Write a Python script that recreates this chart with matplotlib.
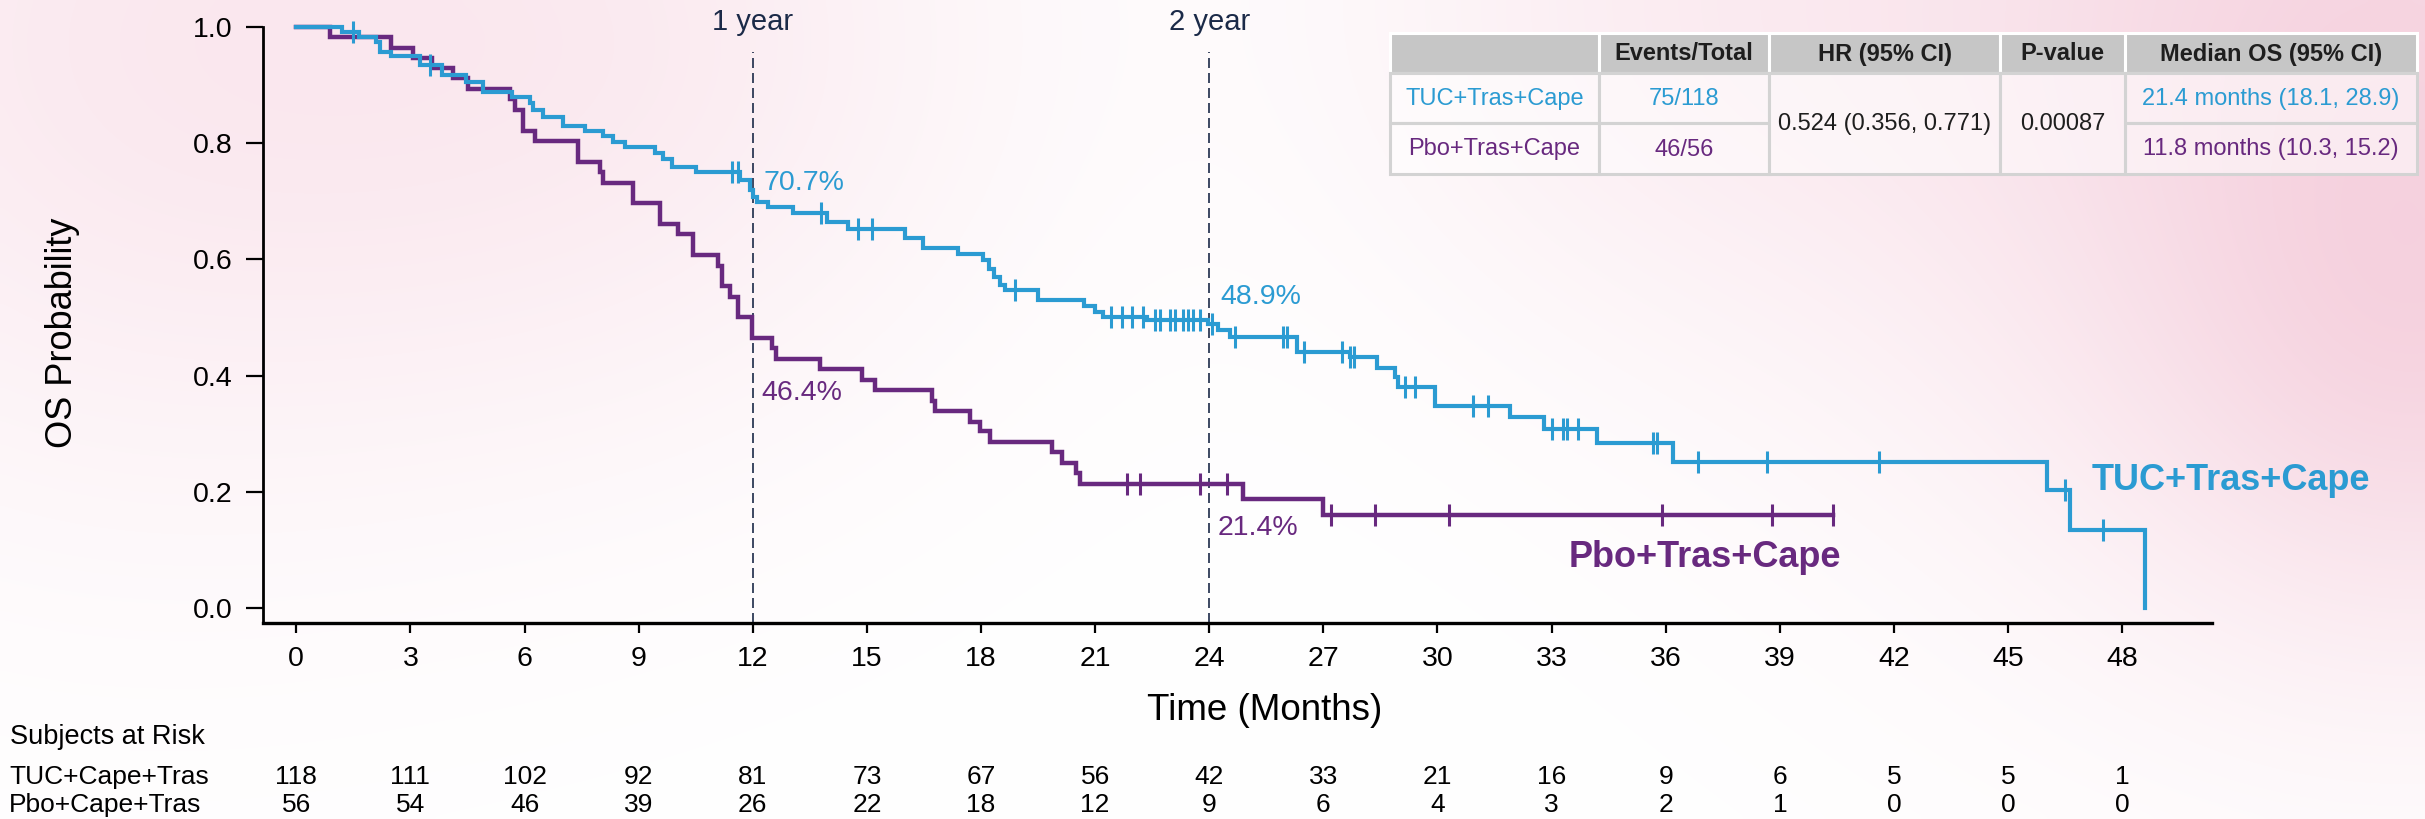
import numpy as np
import matplotlib
matplotlib.use("Agg")
import matplotlib.pyplot as plt
from matplotlib.patches import Rectangle
from matplotlib.transforms import blended_transform_factory

plt.rcParams['font.family'] = ['Liberation Sans', 'DejaVu Sans']

BLUE = '#2B9BD2'
PURPLE = '#68297F'
NAVY = '#1B2A48'

# ---------------- data ----------------
tuc_event_months = [1.2, 1.64, 2.1, 2.2, 2.5, 3.25, 3.82, 4.47, 4.92, 5.66, 6.14, 6.23, 6.49,
                    7.02, 7.59, 8.07, 8.33, 8.64, 9.43, 9.65, 9.87, 10.52, 11.66, 11.92, 12.0,
                    12.1, 12.4, 13.06, 13.94, 14.51, 15.99, 16.48, 17.4, 18.06, 18.2, 18.35,
                    18.5, 18.62, 19.5, 20.7, 21.0, 21.2, 22.36, 23.96, 24.24, 24.55, 26.3,
                    27.7, 28.4, 28.88, 28.97, 29.93, 31.9, 32.8, 34.2, 36.2, 46.01, 46.63, 48.6]
tuc_surv = [0.991, 0.983, 0.974, 0.957, 0.949, 0.934, 0.917, 0.905, 0.888, 0.879, 0.868, 0.856,
            0.845, 0.830, 0.821, 0.812, 0.802, 0.793, 0.783, 0.773, 0.759, 0.750, 0.736, 0.719,
            0.707, 0.698, 0.690, 0.680, 0.665, 0.653, 0.636, 0.619, 0.610, 0.598, 0.583, 0.570,
            0.556, 0.547, 0.530, 0.519, 0.510, 0.500, 0.495, 0.489, 0.478, 0.467, 0.441,
            0.432, 0.413, 0.398, 0.381, 0.348, 0.328, 0.309, 0.284, 0.252, 0.203, 0.134, 0.0]
tuc_censor_months = [1.5, 3.51, 11.45, 11.6, 13.79, 14.77, 15.13, 18.9, 21.43, 21.7, 21.96,
                     22.27, 22.58, 22.71, 22.97, 23.1, 23.3, 23.45, 23.58, 23.76, 24.06, 24.68,
                     25.95, 26.04, 26.5, 27.5, 27.7, 27.8, 29.15, 29.41, 30.94, 31.33, 33.0,
                     33.3, 33.4, 33.7, 35.67, 35.76, 36.85, 38.65, 41.6, 46.5, 47.5]

pbo_event_months = [0.89, 2.5, 3.08, 3.56, 4.13, 4.52, 5.62, 5.75, 5.97, 6.27, 7.41, 7.98, 8.07,
                    8.86, 9.56, 10.04, 10.44, 11.09, 11.18, 11.4, 11.62, 11.97, 12.5, 12.6,
                    13.77, 14.86, 15.2, 16.7, 16.79, 17.71, 17.97, 18.24, 19.86, 20.12, 20.51,
                    20.6, 24.9, 26.99]
pbo_surv = [0.982, 0.964, 0.946, 0.929, 0.911, 0.893, 0.875, 0.857, 0.821, 0.804, 0.768, 0.750,
            0.732, 0.696, 0.661, 0.643, 0.607, 0.589, 0.554, 0.536, 0.500, 0.464, 0.447, 0.429,
            0.411, 0.393, 0.375, 0.357, 0.339, 0.321, 0.304, 0.286, 0.268, 0.250, 0.232,
            0.214, 0.187, 0.161]
pbo_censor_months = [21.83, 22.18, 23.76, 24.46, 27.2, 28.35, 30.3, 35.9, 38.8, 40.4]

x_ticks = list(range(0, 49, 3))
y_ticks = [0.0, 0.2, 0.4, 0.6, 0.8, 1.0]
risk_tuc = [118, 111, 102, 92, 81, 73, 67, 56, 42, 33, 21, 16, 9, 6, 5, 5, 1]
risk_pbo = [56, 54, 46, 39, 26, 22, 18, 12, 9, 6, 4, 3, 2, 1, 0, 0, 0]
risk_labels = ['TUC+Cape+Tras', 'Pbo+Cape+Tras']

landmarks = [12, 24]
landmark_labels = ['1 year', '2 year']
tuc_landmark_pct = ['70.7%', '48.9%']
pbo_landmark_pct = ['46.4%', '21.4%']

arm_names = ['TUC+Tras+Cape', 'Pbo+Tras+Cape']
table_header = ['', 'Events/Total', 'HR (95% CI)', 'P-value', 'Median OS (95% CI)']
table_events = ['75/118', '46/56']
table_hr = '0.524 (0.356, 0.771)'
table_p = '0.00087'
table_median = ['21.4 months (18.1, 28.9)', '11.8 months (10.3, 15.2)']

# ---------------- figure ----------------
W, H = 2425, 819
fig = plt.figure(figsize=(W / 100, H / 100), dpi=100)

# soft pink watercolour-like background
bg = fig.add_axes([0, 0, 1, 1], zorder=-5)
gx, gy = np.meshgrid(np.linspace(0, W, 400), np.linspace(0, H, 140))
blobs = [(120, 40, 330, 0.40), (650, 40, 280, 0.30), (2390, 10, 380, 0.80),
         (2425, 380, 200, 0.35), (1650, 0, 240, 0.25)]
a = np.zeros_like(gx)
for cx, cy, r, s in blobs:
    a += s * np.exp(-(((gx - cx) ** 2 + (gy - cy) ** 2) / (2 * r ** 2)))
a = np.clip(a, 0, 1)
pink = np.array([245, 206, 220]) / 255.0
img = np.ones(gx.shape + (3,)) * (1 - a[..., None]) + pink * a[..., None]
bg.imshow(img, extent=[0, W, H, 0], aspect='auto', interpolation='bicubic')
bg.set_xlim(0, W)
bg.set_ylim(H, 0)
bg.axis('off')

# main axes
ax_l, ax_r, ax_b = 262.7, 2212, 623
ax = fig.add_axes([ax_l / W, 1 - ax_b / H, (ax_r - ax_l) / W, ax_b / H])
ax.set_facecolor('none')
ymin, ymax = -0.0255, 1.046
ax.set_xlim(-0.883, 50.36)
ax.set_ylim(ymin, ymax)
for side in ['top', 'right']:
    ax.spines[side].set_visible(False)
ax.spines['left'].set_bounds(ymin, 1.0)
ax.spines['left'].set_linewidth(2.0)
ax.spines['bottom'].set_linewidth(2.4)
ax.set_xticks(x_ticks)
ax.set_yticks(y_ticks)
ax.set_yticklabels([f'{v:.1f}' for v in y_ticks])
ax.tick_params(axis='x', length=7.5, width=1.6, labelsize=20.5, pad=9)
ax.tick_params(axis='y', length=12, width=1.6, labelsize=20.5, pad=10)


def km_arrays(ev, sv, end=None):
    t = [0.0] + list(ev)
    s = [1.0] + list(sv)
    if end is not None and end > t[-1]:
        t.append(end)
        s.append(s[-1])
    return np.array(t), np.array(s)


def surv_at(times, surv, q):
    idx = np.searchsorted(times, q, side='right') - 1
    return surv[idx]


tt, ts = km_arrays(tuc_event_months, tuc_surv)
pt, ps = km_arrays(pbo_event_months, pbo_surv, end=max(pbo_censor_months))

ax.step(tt, ts, where='post', color=BLUE, lw=3.0, zorder=4, solid_joinstyle='miter')
ax.step(pt, ps, where='post', color=PURPLE, lw=3.2, zorder=3, solid_joinstyle='miter')
ax.plot(tuc_censor_months, surv_at(tt, ts, np.array(tuc_censor_months)), ls='none',
        marker='|', ms=16, mew=2.2, color=BLUE, zorder=5)
ax.plot(pbo_censor_months, surv_at(pt, ps, np.array(pbo_censor_months)), ls='none',
        marker='|', ms=16, mew=2.2, color=PURPLE, zorder=5)

# landmark lines and labels
for lm, lab in zip(landmarks, landmark_labels):
    ax.plot([lm, lm], [ymin, 0.957], color=NAVY, lw=1.2, ls=(0, (6, 3)), zorder=2)
    ax.text(lm, 1.008, lab, color=NAVY, fontsize=21, ha='center', va='center')

tuc_lab_y = [0.731, 0.535]
pbo_lab_y = [0.370, 0.138]
for lm, txt, yy in zip(landmarks, tuc_landmark_pct, tuc_lab_y):
    ax.text(lm + 0.28, yy, txt, color=BLUE, fontsize=20.5, ha='left', va='center')
for lm, txt, yy in zip(landmarks, pbo_landmark_pct, pbo_lab_y):
    ax.text(lm + 0.22, yy, txt, color=PURPLE, fontsize=20.5, ha='left', va='center')

ax.text(47.2, 0.22, arm_names[0], color=BLUE, fontsize=26, fontweight='bold',
        ha='left', va='center')
ax.text(40.6, 0.088, arm_names[1], color=PURPLE, fontsize=26, fontweight='bold',
        ha='right', va='center')

# axis titles
fig.text(62 / W, 1 - 333 / H, 'OS Probability', rotation=90, fontsize=26,
         ha='center', va='center')
fig.text(1265 / W, 1 - 710 / H, 'Time (Months)', fontsize=26.5, ha='center', va='center')

# risk table
bt = blended_transform_factory(ax.transData, fig.transFigure)
fig.text(10 / W, 1 - 737 / H, 'Subjects at Risk', fontsize=19.5, ha='left', va='center')
for lab, yy in zip(risk_labels, [777, 805]):
    fig.text(9 / W, 1 - yy / H, lab, fontsize=19, ha='left', va='center')
for xv, n1, n2 in zip(x_ticks, risk_tuc, risk_pbo):
    ax.text(xv, 1 - 777 / H, str(n1), transform=bt, fontsize=19, ha='center',
            va='center', clip_on=False)
    ax.text(xv, 1 - 805 / H, str(n2), transform=bt, fontsize=19, ha='center',
            va='center', clip_on=False)

# summary table (pixel layout overlay)
ov = fig.add_axes([0, 0, 1, 1], zorder=10)
ov.set_xlim(0, W)
ov.set_ylim(H, 0)
ov.axis('off')
cols = [1390, 1599, 1769, 2000, 2125, 2417]
rows = [33, 73, 123, 174]
edge = '#D3D3D3'
for i in range(5):
    ov.add_patch(Rectangle((cols[i], rows[0]), cols[i + 1] - cols[i], rows[1] - rows[0],
                           facecolor='#C6C6C6', edgecolor='white', lw=2.2))
    if table_header[i]:
        ov.text((cols[i] + cols[i + 1]) / 2, (rows[0] + rows[1]) / 2 + 1, table_header[i],
                fontsize=17, fontweight='bold', color='#1E1E1E', ha='center', va='center')
body_cells = [(0, 1), (0, 2), (1, 1), (1, 2), (4, 1), (4, 2)]
for c, r in body_cells:
    ov.add_patch(Rectangle((cols[c], rows[r]), cols[c + 1] - cols[c], rows[r + 1] - rows[r],
                           facecolor=(1, 1, 1, 0.55), edgecolor=edge, lw=2.2))
for c in (2, 3):
    ov.add_patch(Rectangle((cols[c], rows[1]), cols[c + 1] - cols[c], rows[3] - rows[1],
                           facecolor=(1, 1, 1, 0.55), edgecolor=edge, lw=2.2))
arm_colors = [BLUE, PURPLE]
for r in range(2):
    yc = (rows[r + 1] + rows[r + 2]) / 2 + 1
    ov.text((cols[0] + cols[1]) / 2, yc, arm_names[r], fontsize=17, color=arm_colors[r],
            ha='center', va='center')
    ov.text((cols[1] + cols[2]) / 2, yc, table_events[r], fontsize=17, color=arm_colors[r],
            ha='center', va='center')
    ov.text((cols[4] + cols[5]) / 2, yc, table_median[r], fontsize=17, color=arm_colors[r],
            ha='center', va='center')
ov.text((cols[2] + cols[3]) / 2, rows[2] + 1, table_hr, fontsize=17, color='#1E1E1E',
        ha='center', va='center')
ov.text((cols[3] + cols[4]) / 2, rows[2] + 1, table_p, fontsize=17, color='#1E1E1E',
        ha='center', va='center')

fig.savefig('out.png', dpi=100)
